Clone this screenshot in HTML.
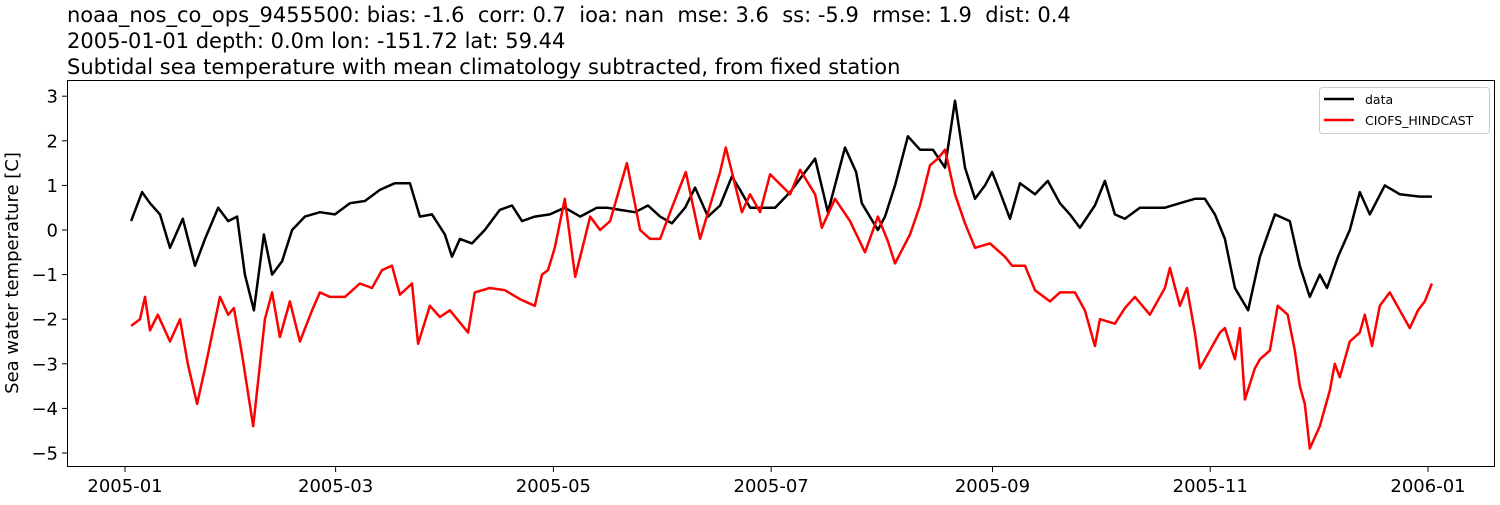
<!DOCTYPE html>
<html><head><meta charset="utf-8"><style>
body{margin:0;background:#fff;font-family:"Liberation Sans","DejaVu Sans",sans-serif;}
svg text{font-family:"DejaVu Sans","Liberation Sans",sans-serif;white-space:pre;}
</style></head><body>
<svg id="chart" width="1500" height="500" xmlns="http://www.w3.org/2000/svg">
<rect width="1500" height="500" fill="#fff"/>
<g font-size="21" fill="#000">
<text x="67" y="22" xml:space="preserve">noaa_nos_co_ops_9455500: bias: -1.6  corr: 0.7  ioa: nan  mse: 3.6  ss: -5.9  rmse: 1.9  dist: 0.4</text>
<text x="67" y="48">2005-01-01 depth: 0.0m lon: -151.72 lat: 59.44</text>
<text x="67" y="74">Subtidal sea temperature with mean climatology subtracted, from fixed station</text>
</g>
<text font-size="18" text-anchor="middle" transform="translate(18,273) rotate(-90)">Sea water temperature [C]</text>
<g id="ticks"></g>
<g id="series"></g>
<rect x="67.5" y="80.5" width="1427" height="386" fill="none" stroke="#000" stroke-width="1"/>
<g>
<rect x="1319.5" y="87.5" width="170" height="46" rx="3" fill="#fff" stroke="#ccc"/>
<line x1="1324" y1="99" x2="1354" y2="99" stroke="#000" stroke-width="2.5"/>
<text x="1365" y="104" font-size="12.5">data</text>
<line x1="1324" y1="120" x2="1354" y2="120" stroke="#f00" stroke-width="2.5"/>
<text x="1365" y="125" font-size="12.5">CIOFS_HINDCAST</text>
</g>
</svg>
<script>
const yTicks=[3,2,1,0,-1,-2,-3,-4,-5];
const xTickDays=[0,59,120,181,243,304,365];
const xTickLabels=["2005-01","2005-03","2005-05","2005-07","2005-09","2005-11","2006-01"];
const dataDays=[1.7,4.8,7,9.8,12.6,16.2,19.6,22.4,26.1,28.9,31.4,33.6,36.1,38.9,41.2,44,46.8,50.4,54.6,58.8,63,67.2,71.4,75.6,79.8,82.6,86,89.6,91.6,93.8,97.2,100.8,105,108.4,111.2,114.8,119,123.2,127.5,132.2,135,138.7,142.9,146.5,149.9,153.2,156.9,159.7,163.3,166.7,170,172.3,175.1,177.9,182.1,186.3,193.3,196.9,201.7,204.8,206.4,210.9,212.9,215.7,219.3,222.7,226.3,229.7,232.5,235.3,238.1,240.9,242.9,245.1,247.9,250.7,254.9,258.5,261.9,264.7,267.5,271.7,274.5,277.3,280.1,284.3,287.1,291.3,295.5,299.7,302.5,305.3,308.1,310.9,314.6,317.9,322.1,326.3,329.1,331.9,334.7,336.7,339.8,343.1,345.9,348.7,352.9,357.1,362.7,366.1];
const dataValues=[0.2,0.85,0.6,0.35,-0.4,0.25,-0.8,-0.2,0.5,0.2,0.3,-1.0,-1.8,-0.1,-1.0,-0.7,0.0,0.3,0.4,0.35,0.6,0.65,0.9,1.05,1.05,0.3,0.35,-0.1,-0.6,-0.2,-0.3,0.0,0.45,0.55,0.2,0.3,0.35,0.5,0.3,0.5,0.5,0.45,0.4,0.55,0.3,0.15,0.5,0.95,0.3,0.55,1.2,0.9,0.5,0.5,0.5,0.85,1.6,0.4,1.85,1.3,0.6,0.0,0.3,1.0,2.1,1.8,1.8,1.4,2.9,1.4,0.7,1.0,1.3,0.85,0.25,1.05,0.8,1.1,0.6,0.35,0.05,0.55,1.1,0.35,0.25,0.5,0.5,0.5,0.6,0.7,0.7,0.35,-0.2,-1.3,-1.8,-0.6,0.35,0.2,-0.8,-1.5,-1.0,-1.3,-0.6,0.0,0.85,0.35,1.0,0.8,0.75,0.75];
const modelDays=[1.7,4.2,5.6,7,9.2,12.6,15.4,17.6,20.2,22.4,26.6,28.9,30.5,32.8,35.9,39.2,41.2,43.4,46.2,49,52.4,54.6,57.4,61.6,65.8,69.2,72,74.8,77,80.4,82.1,85.4,88.2,91,96.1,98,102.2,106.4,110.6,114.8,116.8,118.5,120.4,123.2,126.1,127.5,130.3,133.1,135.9,140.6,144.3,147.1,149.9,153.2,157.1,161.1,166.7,168.3,172.8,175.1,177.9,180.7,186.3,189.1,193.3,195.2,198.9,203.1,207.3,210.9,213.7,215.7,219.9,222.7,225.5,227.7,229.7,232.5,235.3,238.1,242.3,246.5,248.5,252.1,254.9,259.1,261.9,266.1,268.9,271.7,273.1,277.3,280.1,282.9,287.1,291.3,292.7,295.5,297.5,299.7,301.1,303.9,306.7,308.1,310.9,312.3,313.7,316.5,317.9,320.7,322.9,325.7,327.7,329.1,330.5,331.9,334.7,337.5,338.9,340.3,343.1,345.9,347.3,349.3,351.5,354.3,357.1,359.9,362.2,364.1,366.1];
const modelValues=[-2.15,-2.0,-1.5,-2.25,-1.9,-2.5,-2.0,-3.0,-3.9,-3.1,-1.5,-1.9,-1.75,-2.8,-4.4,-2.0,-1.4,-2.4,-1.6,-2.5,-1.8,-1.4,-1.5,-1.5,-1.2,-1.3,-0.9,-0.8,-1.45,-1.2,-2.55,-1.7,-1.95,-1.8,-2.3,-1.4,-1.3,-1.35,-1.55,-1.7,-1.0,-0.9,-0.4,0.7,-1.05,-0.6,0.3,0.0,0.2,1.5,0.0,-0.2,-0.2,0.5,1.3,-0.2,1.3,1.85,0.4,0.8,0.4,1.25,0.8,1.35,0.8,0.05,0.7,0.2,-0.5,0.3,-0.25,-0.75,-0.1,0.55,1.45,1.6,1.8,0.8,0.15,-0.4,-0.3,-0.6,-0.8,-0.8,-1.35,-1.6,-1.4,-1.4,-1.8,-2.6,-2.0,-2.1,-1.75,-1.5,-1.9,-1.3,-0.85,-1.7,-1.3,-2.3,-3.1,-2.7,-2.3,-2.2,-2.9,-2.2,-3.8,-3.1,-2.9,-2.7,-1.7,-1.9,-2.7,-3.5,-3.9,-4.9,-4.4,-3.6,-3.0,-3.3,-2.5,-2.3,-1.9,-2.6,-1.7,-1.4,-1.8,-2.2,-1.8,-1.6,-1.2];

const NS='http://www.w3.org/2000/svg';
function xScale(d){return 125+d*(1428-125)/365;}
function yScale(v){return 230-v*44.6;}
const tg=document.getElementById('ticks');
yTicks.forEach(v=>{
  const y=yScale(v);
  const l=document.createElementNS(NS,'line');
  l.setAttribute('x1',62);l.setAttribute('x2',67);l.setAttribute('y1',y);l.setAttribute('y2',y);l.setAttribute('stroke','#000');
  
  
  tg.appendChild(l);
  const t=document.createElementNS(NS,'text');
  t.setAttribute('x',58);t.setAttribute('y',y+6.5);t.setAttribute('text-anchor','end');t.setAttribute('font-size','18');
  t.textContent=(v<0?'\u2212'+(-v):String(v));
  
  
  tg.appendChild(t);
});
xTickDays.forEach((d,i)=>{
  const x=xScale(d);
  const l=document.createElementNS(NS,'line');
  l.setAttribute('x1',x);l.setAttribute('x2',x);l.setAttribute('y1',467);l.setAttribute('y2',472);l.setAttribute('stroke','#000');
  
  
  tg.appendChild(l);
  const t=document.createElementNS(NS,'text');
  t.setAttribute('x',x);t.setAttribute('y',492);t.setAttribute('text-anchor','middle');t.setAttribute('font-size','18');
  t.textContent=xTickLabels[i];
  
  
  tg.appendChild(t);
});
const sg=document.getElementById('series');
function draw(days,vals,color,name){
  const p=document.createElementNS(NS,'path');
  p.setAttribute('d',days.map((d,i)=>(i?'L':'M')+xScale(d).toFixed(1)+','+yScale(vals[i]).toFixed(1)).join(''));
  p.setAttribute('fill','none');p.setAttribute('stroke',color);p.setAttribute('stroke-width','2.5');p.setAttribute('stroke-linejoin','round');
  
  
  sg.appendChild(p);
}
draw(dataDays,dataValues,'#000','data-line');
draw(modelDays,modelValues,'#f00','ciofs-hindcast-line');
</script>
</body></html>
